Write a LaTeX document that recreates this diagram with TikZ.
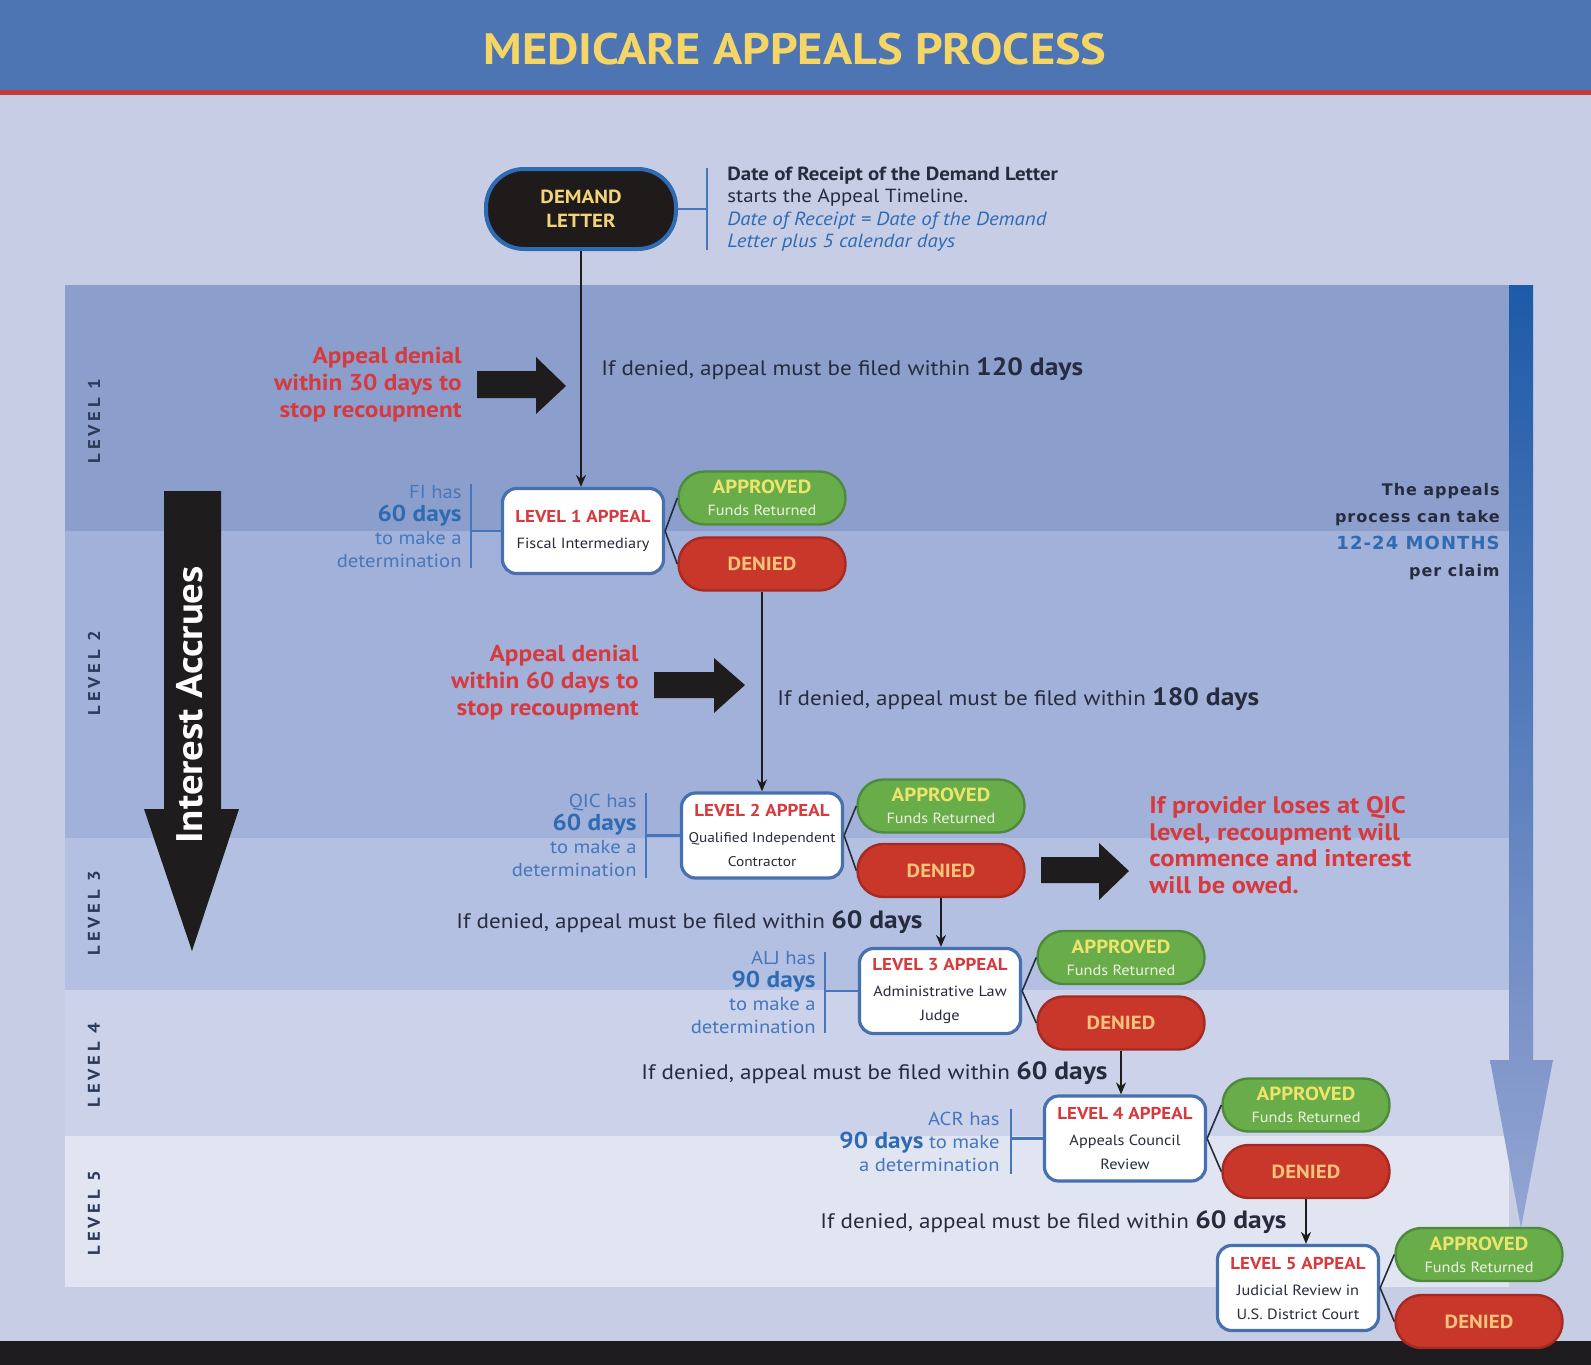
\documentclass[tikz,border=0pt]{standalone}
\usepackage{fontspec}
\setmainfont{PT Sans}[FakeStretch=1.1]
\newfontfamily\wfont{DejaVu Sans}
\usetikzlibrary{arrows.meta,calc}
\definecolor{bgc}{HTML}{C6CDE4}
\definecolor{titleblue}{HTML}{4D75B4}
\definecolor{titley}{HTML}{F5D565}
\definecolor{redline}{HTML}{C23B3B}
\definecolor{bandA}{HTML}{8C9FCC}
\definecolor{bandB}{HTML}{A2B1D9}
\definecolor{bandC}{HTML}{B4C0E1}
\definecolor{bandD}{HTML}{CBD2EA}
\definecolor{bandE}{HTML}{E1E5F2}
\definecolor{barc}{HTML}{1E1C1E}
\definecolor{redt}{HTML}{D63A3E}
\definecolor{bluet}{HTML}{2E6BB4}
\definecolor{lbluet}{HTML}{4677BD}
\definecolor{darkt}{HTML}{262B3E}
\definecolor{boxc}{HTML}{4670AE}
\definecolor{greenf}{HTML}{69AD4B}
\definecolor{greenb}{HTML}{4E8A3C}
\definecolor{apprt}{HTML}{EDE46C}
\definecolor{fundt}{HTML}{EEF3E2}
\definecolor{redf}{HTML}{C8372A}
\definecolor{redb}{HTML}{A52A22}
\definecolor{dent}{HTML}{F7C27C}
\definecolor{blk}{HTML}{1F1C1D}
\definecolor{demf}{HTML}{1F1B1B}
\definecolor{demb}{HTML}{2F6BB3}
\definecolor{demt}{HTML}{F2D37A}
\definecolor{lvlt}{HTML}{2B3A5A}
\definecolor{shafttop}{HTML}{1D5AA8}
\definecolor{shaftbot}{HTML}{8197CB}
\definecolor{headc}{HTML}{93A6D3}
\tikzset{
  conn/.style={line width=0.8pt, draw=blk, -{Stealth[length=6pt,width=5pt]}},
  link/.style={line width=0.8pt, draw=darkt},
  brk/.style={line width=1.3pt, draw=lbluet},
  lvbox/.style={draw=boxc, line width=1.6pt, fill=white, rounded corners=7pt,
    minimum width=80.5pt, minimum height=42.5pt, align=center, inner sep=1pt, text=darkt},
  apill/.style={draw=greenb, line width=1.2pt, fill=greenf, rounded corners=13pt,
    minimum width=83.5pt, minimum height=26.5pt, align=center, inner sep=0pt},
  dpill/.style={draw=redb, line width=1.2pt, fill=redf, rounded corners=13pt,
    minimum width=83.5pt, minimum height=26.5pt, align=center, inner sep=0pt,
    text=dent, font=\bfseries\fontsize{9.5}{11}\selectfont},
  redtxt/.style={text=redt, align=right, font=\bfseries\fontsize{11.5}{13.5}\selectfont, inner sep=0pt},
  bluetxt/.style={text=lbluet, align=right, font=\fontsize{9.4}{11.5}\selectfont, inner sep=0pt},
  ifden/.style={text=darkt, font=\fontsize{10.5}{12}\selectfont, inner sep=0pt},
  lvl/.style={rotate=90, text=lvlt, font=\bfseries\fontsize{8.5}{9}\selectfont\addfontfeature{LetterSpace=22}, inner sep=0pt},
  blockarrow/.style={fill=blk}
}
\newcommand{\apptitle}[1]{\textcolor{redt}{\bfseries\fontsize{8.6}{12}\selectfont #1}}
\newcommand{\appsub}{\fontsize{7.4}{9.5}\selectfont}
\newcommand{\appsubs}{\fontsize{7}{9.5}\selectfont}
\newcommand{\apprtext}{\textcolor{apprt}{\bfseries\fontsize{9.5}{11}\selectfont APPROVED}\\[-1pt]\textcolor{fundt}{\fontsize{7.4}{8}\selectfont Funds Returned}}
\newcommand{\bigdays}[1]{{\bfseries\fontsize{12.5}{14}\selectfont #1}}
\newcommand{\bluedays}[1]{{\color{bluet}\bfseries\fontsize{11.5}{12}\selectfont #1}}
\begin{document}
\begin{tikzpicture}[x=0.5pt,y=-0.5pt]
\useasboundingbox (0,0) rectangle (1591,1365);
% background
\fill[bgc] (0,0) rectangle (1591,1365);
\fill[titleblue] (0,0) rectangle (1591,90);
\fill[redline] (0,90) rectangle (1591,95);
\node[text=titley, font=\bfseries\fontsize{22}{26}\selectfont] (title) at (795,49) {MEDICARE APPEALS PROCESS};
% level bands
\fill[bandA] (65,285) rectangle (1509,531);
\fill[bandB] (65,531) rectangle (1509,838);
\fill[bandC] (65,838) rectangle (1509,990);
\fill[bandD] (65,990) rectangle (1509,1136);
\fill[bandE] (65,1136) rectangle (1509,1287);
\fill[barc] (0,1341) rectangle (1591,1365);
% timeline arrow on the right
\shade[top color=shafttop, bottom color=shaftbot] (1509,285) rectangle (1533,1060);
\shade[top color=shaftbot, bottom color=headc] (1490,1060) -- (1553,1060) -- (1521,1228) -- cycle;
% level labels
\node[lvl] (lv1) at (94,421) {LEVEL 1};
\node[lvl] (lv2) at (94,673) {LEVEL 2};
\node[lvl] (lv3) at (94,913) {LEVEL 3};
\node[lvl] (lv4) at (94,1065) {LEVEL 4};
\node[lvl] (lv5) at (94,1213) {LEVEL 5};
% interest accrues arrow
\fill[blockarrow] (164,491) -- (221,491) -- (221,809) -- (239,809) -- (192,951) -- (144,809) -- (164,809) -- cycle;
\node[rotate=90, text=white, font=\bfseries\fontsize{18.5}{20}\selectfont] (interest) at (190,705) {Interest Accrues};
% demand letter
\node[fill=demf, draw=demb, line width=2pt, rounded corners=19pt, minimum width=95pt, minimum height=40pt,
  text=demt, align=center, font=\bfseries\fontsize{9.5}{12}\selectfont] (dem) at (581,209) {DEMAND\\LETTER};
\coordinate (dbt) at (707,168);
\coordinate (dbb) at (707,250);
\draw[brk] (dbt) -- (dbb);
\draw[brk] (dem.east) -- (dem.east -| dbt);
\node[anchor=west, align=left, text=darkt, font=\fontsize{9.5}{11.25}\selectfont, inner sep=0pt] (demtxt) at (727,209)
  {\textbf{Date of Receipt of the Demand Letter}\\starts the Appeal Timeline.\\
   \textcolor{bluet}{\itshape Date of Receipt = Date of the Demand}\\\textcolor{bluet}{\itshape Letter plus 5 calendar days}};
% ---------- level 1
\node[lvbox] (l1) at (583,531) {\apptitle{LEVEL 1 APPEAL}\\[1pt]{\appsub Fiscal Intermediary}};
\node[apill] (a1) at (762,498) {\apprtext};
\node[dpill] (d1) at (762,564) {DENIED};
\draw[link] (l1.east) -- (a1.west);
\draw[link] (l1.east) -- (d1.west);
\draw[conn] (dem.south) -- (dem.south |- l1.north);
\node[redtxt, anchor=east] (r1) at (462,385) {Appeal denial\\within 30 days to\\stop recoupment};
\fill[blockarrow] (477,371) -- (536,371) -- (536,357) -- (566,386) -- (536,414) -- (536,398) -- (477,398) -- cycle;
\node[ifden, anchor=base west] (t1) at (601,375) {If denied, appeal must be filed within \bigdays{120 days}};
\node[bluetxt, anchor=east] (fi) at (462,527) {FI has\\\bluedays{60 days}\\to make a\\determination};
\coordinate (b1t) at (471,484);
\coordinate (b1b) at (471,568);
\draw[brk] (b1t) -- (b1b);
\draw[brk] (l1.west) -- (l1.west -| b1t);
% ---------- level 2
\node[lvbox] (l2) at (762,835.5) {\apptitle{LEVEL 2 APPEAL}\\[1pt]{\appsubs Qualified Independent}\\{\appsubs Contractor}};
\node[apill] (a2) at (941,806) {\apprtext};
\node[dpill] (d2) at (941,870.5) {DENIED};
\draw[link] (l2.east) -- (a2.west);
\draw[link] (l2.east) -- (d2.west);
\draw[conn] (d1.south) -- (d1.south |- l2.north);
\node[redtxt, anchor=east] (r2) at (639,683) {Appeal denial\\within 60 days to\\stop recoupment};
\fill[blockarrow] (654,672) -- (714,672) -- (714,658) -- (745,685) -- (714,713) -- (714,698) -- (654,698) -- cycle;
\node[ifden, anchor=base west] (t2) at (777,705) {If denied, appeal must be filed within \bigdays{180 days}};
\node[bluetxt, anchor=east] (qic) at (637,835) {QIC has\\\bluedays{60 days}\\to make a\\determination};
\coordinate (b2t) at (646,793);
\coordinate (b2b) at (646,878);
\draw[brk] (b2t) -- (b2b);
\draw[brk] (l2.west) -- (l2.west -| b2t);
\fill[blockarrow] (1041,857) -- (1099,857) -- (1099,843) -- (1129,871) -- (1099,900) -- (1099,883) -- (1041,883) -- cycle;
\node[redtxt, anchor=west, align=left, font=\bfseries\fontsize{12}{13.3}\selectfont] (r3) at (1149,845) {If provider loses at QIC\\level, recoupment will\\commence and interest\\will be owed.};
% ---------- level 3
\node[lvbox] (l3) at (940,991) {\apptitle{LEVEL 3 APPEAL}\\[1pt]{\appsub Administrative Law}\\{\appsub Judge}};
\node[apill] (a3) at (1121,957.5) {\apprtext};
\node[dpill] (d3) at (1121,1023) {DENIED};
\draw[link] (l3.east) -- (a3.west);
\draw[link] (l3.east) -- (d3.west);
\draw[conn] (d2.south) -- (d2.south |- l3.north);
\node[ifden, anchor=base east] (t3) at (923,928) {If denied, appeal must be filed within \bigdays{60 days}};
\node[bluetxt, anchor=east] (alj) at (816,992) {ALJ has\\\bluedays{90 days}\\to make a\\determination};
\coordinate (b3t) at (825,952);
\coordinate (b3b) at (825,1033);
\draw[brk] (b3t) -- (b3b);
\draw[brk] (l3.west) -- (l3.west -| b3t);
% ---------- level 4
\node[lvbox] (l4) at (1125,1138.5) {\apptitle{LEVEL 4 APPEAL}\\[1pt]{\appsub Appeals Council}\\{\appsub Review}};
\node[apill] (a4) at (1306,1105) {\apprtext};
\node[dpill] (d4) at (1306,1171.5) {DENIED};
\draw[link] (l4.east) -- (a4.west);
\draw[link] (l4.east) -- (d4.west);
\draw[conn] (d3.south) -- (d3.south |- l4.north);
\node[ifden, anchor=base east] (t4) at (1108,1079) {If denied, appeal must be filed within \bigdays{60 days}};
\node[bluetxt, anchor=east] (acr) at (1000,1142) {ACR has\\\bluedays{90 days} to make\\a determination};
\coordinate (b4t) at (1011,1109);
\coordinate (b4b) at (1011,1174);
\draw[brk] (b4t) -- (b4b);
\draw[brk] (l4.west) -- (l4.west -| b4t);
% ---------- level 5
\node[lvbox] (l5) at (1298,1288) {\apptitle{LEVEL 5 APPEAL}\\[1pt]{\appsub Judicial Review in}\\{\appsub U.S. District Court}};
\node[apill] (a5) at (1479,1254.5) {\apprtext};
\node[dpill] (d5) at (1479,1321.5) {DENIED};
\draw[link] (l5.east) -- (a5.west);
\draw[link] (l5.east) -- (d5.west);
\draw[conn] (d4.south) -- (d4.south |- l5.north);
\node[ifden, anchor=base east] (t5) at (1287,1228) {If denied, appeal must be filed within \bigdays{60 days}};
% right note
\node[anchor=east, align=right, text=darkt, inner sep=0pt, font=\wfont\bfseries\fontsize{8}{13.5}\selectfont\addfontfeature{LetterSpace=6}] (note) at (1500,532)
  {The appeals\\process can take\\{\color{bluet}\fontsize{9}{10}\selectfont 12-24 MONTHS}\\per claim};
\end{tikzpicture}
\end{document}
